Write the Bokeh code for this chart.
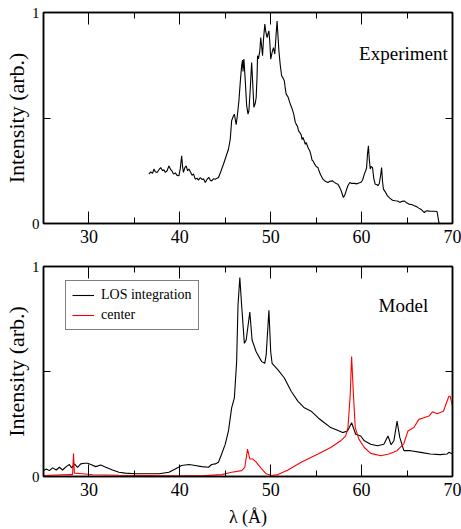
from bokeh.plotting import figure
from bokeh.layouts import column
from bokeh.models import FixedTicker, LinearAxis, Label, Legend, LegendItem, Range1d
from bokeh.embed import file_html
from bokeh.resources import INLINE

# ---------------- data ----------------
x_major = [30, 40, 50, 60, 70]
x_minor = [35, 45, 55, 65]
y_ticks = [0, 0.5, 1]
y_tick_labels = {0: "0", 0.5: "", 1: "1"}

exp_wl = [36.6, 36.8, 37.0, 37.15, 37.3, 37.5, 37.7, 37.9, 38.1, 38.25, 38.4, 38.6, 38.8, 39.0, 39.15,
          39.3, 39.5, 39.7, 39.9, 40.05, 40.2, 40.3, 40.4, 40.55, 40.7, 40.85, 41.0, 41.2, 41.35, 41.5,
          41.7, 41.9, 42.05, 42.25, 42.45, 42.6, 42.8, 43.0, 43.2, 43.35, 43.5, 43.7, 43.9, 44.1, 44.25,
          44.5, 44.8, 45.1, 45.35, 45.55, 45.7, 45.85, 46.0, 46.2, 46.35, 46.5, 46.65, 46.8, 46.9, 46.95,
          47.05, 47.2, 47.35, 47.5, 47.6, 47.75, 47.9, 48.0, 48.15, 48.3, 48.4, 48.5, 48.55, 48.65, 48.8,
          48.9, 49.0, 49.1, 49.2, 49.35, 49.45, 49.6, 49.7, 49.8, 49.9, 50.0, 50.15, 50.3, 50.45, 50.6,
          50.7, 50.8, 50.9, 51.05, 51.2, 51.35, 51.5, 51.6, 51.7, 51.9, 52.1, 52.3, 52.45, 52.55, 52.7,
          52.8, 52.95, 53.05, 53.2, 53.35, 53.45, 53.55, 53.7, 53.8, 53.9, 54.1, 54.3, 54.45, 54.55, 54.65,
          54.85, 55.0, 55.2, 55.35, 55.5, 55.75, 56.0, 56.3, 56.5, 56.8, 57.0, 57.2, 57.4, 57.6, 57.75,
          58.0, 58.15, 58.3, 58.5, 58.7, 58.9, 59.2, 59.5, 59.7, 59.9, 60.1, 60.3, 60.45, 60.55, 60.65,
          60.75, 60.85, 60.95, 61.05, 61.2, 61.35, 61.5, 61.65, 61.8, 61.95, 62.1, 62.2, 62.3, 62.4, 62.6,
          62.85, 63.1, 63.4, 63.7, 63.95, 64.2, 64.45, 64.7, 64.95, 65.2, 65.5, 65.8, 66.05, 66.3, 66.6,
          66.9, 67.05, 67.2, 67.6, 68.0, 68.3, 68.5, 68.6, 69.9]
exp_int = [0.234, 0.245, 0.238, 0.258, 0.245, 0.242, 0.255, 0.265, 0.25, 0.255, 0.242, 0.25, 0.273, 0.255, 0.248,
           0.234, 0.24, 0.228, 0.226, 0.26, 0.321, 0.27, 0.242, 0.265, 0.273, 0.25, 0.258, 0.242, 0.228, 0.235,
           0.21, 0.215, 0.205, 0.218, 0.208, 0.212, 0.194, 0.21, 0.218, 0.205, 0.202, 0.212, 0.21, 0.215, 0.218,
           0.245, 0.281, 0.32, 0.352, 0.4, 0.487, 0.505, 0.518, 0.468, 0.52, 0.581, 0.67, 0.747, 0.775, 0.72,
           0.779, 0.676, 0.56, 0.518, 0.534, 0.64, 0.763, 0.68, 0.55, 0.57, 0.597, 0.7, 0.795, 0.78, 0.818,
           0.881, 0.84, 0.795, 0.87, 0.945, 0.91, 0.881, 0.9, 0.913, 0.86, 0.779, 0.81, 0.834, 0.803, 0.9,
           0.96, 0.89, 0.818, 0.75, 0.70, 0.69, 0.676, 0.64, 0.613, 0.6, 0.573, 0.55, 0.53, 0.515, 0.48,
           0.471, 0.46, 0.44, 0.431, 0.42, 0.398, 0.408, 0.39, 0.375, 0.384, 0.36, 0.344, 0.32, 0.3, 0.297,
           0.28, 0.27, 0.265, 0.245, 0.23, 0.21, 0.2, 0.194, 0.2, 0.202, 0.195, 0.19, 0.186, 0.17, 0.155,
           0.123, 0.135, 0.155, 0.18, 0.194, 0.19, 0.19, 0.188, 0.192, 0.194, 0.205, 0.234, 0.25, 0.265, 0.33,
           0.368, 0.3, 0.258, 0.27, 0.265, 0.21, 0.186, 0.185, 0.179, 0.19, 0.23, 0.265, 0.2, 0.163, 0.15,
           0.131, 0.12, 0.11, 0.108, 0.107, 0.1, 0.105, 0.107, 0.098, 0.092, 0.09, 0.084, 0.08, 0.073, 0.065,
           0.052, 0.058, 0.06, 0.058, 0.058, 0.057, 0.005, 0.0, 0.0]

los_wl = [25.0, 25.3, 25.65, 26.0, 26.4, 26.75, 27.1, 27.5, 27.85, 28.1, 28.4, 28.75, 29.1, 29.5, 29.85,
          30.2, 30.75, 31.3, 31.85, 32.6, 33.3, 34.0, 35.1, 36.2, 37.7, 38.8, 39.5, 40.2, 41.0, 41.7,
          42.4, 43.15, 43.5, 43.9, 44.25, 44.6, 45.0, 45.35, 45.7, 46.0, 46.25, 46.4, 46.6, 46.8, 47.1,
          47.3, 47.7, 47.95, 48.4, 49.0, 49.35, 49.5, 49.8, 50.0, 50.15, 50.8, 51.5, 52.25, 53.0, 53.7,
          54.45, 55.2, 55.9, 56.6, 57.35, 57.9, 58.45, 58.9, 59.35, 59.9, 60.3, 61.0, 61.75, 62.45, 62.9,
          63.25, 63.55, 63.9, 64.2, 64.65, 65.4, 66.5, 67.55, 68.65, 69.4, 69.6, 70.0]
los_int = [0.028, 0.036, 0.028, 0.041, 0.031, 0.044, 0.031, 0.047, 0.057, 0.041, 0.06, 0.044, 0.06, 0.063, 0.063,
           0.057, 0.047, 0.055, 0.044, 0.031, 0.02, 0.016, 0.013, 0.013, 0.013, 0.02, 0.036, 0.052, 0.057, 0.052,
           0.047, 0.044, 0.057, 0.06, 0.068, 0.107, 0.154, 0.217, 0.327, 0.374, 0.547, 0.814, 0.948, 0.814, 0.634,
           0.65, 0.783, 0.65, 0.594, 0.547, 0.539, 0.579, 0.791, 0.594, 0.539, 0.508, 0.469, 0.406, 0.358, 0.327,
           0.311, 0.28, 0.256, 0.233, 0.22, 0.209, 0.217, 0.256, 0.201, 0.193, 0.17, 0.154, 0.146, 0.154, 0.193,
           0.151, 0.17, 0.264, 0.186, 0.123, 0.123, 0.115, 0.107, 0.104, 0.107, 0.115, 0.107]

ctr_wl = [25.0, 27.85, 28.2, 28.3, 28.4, 29.3, 30.4, 33.3, 38.8, 42.4, 44.6, 45.7, 46.8, 47.15, 47.45,
          47.7, 48.05, 48.4, 49.0, 49.5, 50.1, 50.8, 51.9, 53.35, 55.2, 56.6, 57.7, 58.25, 58.5, 58.75,
          58.9, 59.1, 59.3, 59.7, 60.3, 61.0, 62.1, 63.0, 63.9, 64.65, 65.1, 65.4, 65.75, 66.3, 66.85,
          67.4, 67.8, 68.3, 69.0, 69.6, 69.75, 70.0]
ctr_int = [0.005, 0.009, 0.009, 0.11, 0.016, 0.013, 0.008, 0.006, 0.003, 0.003, 0.009, 0.02, 0.028, 0.044, 0.13,
           0.083, 0.083, 0.068, 0.036, 0.013, 0.005, 0.009, 0.031, 0.068, 0.107, 0.138, 0.17, 0.193, 0.233, 0.39,
           0.571, 0.39, 0.233, 0.178, 0.138, 0.11, 0.099, 0.107, 0.123, 0.157, 0.217, 0.225, 0.233, 0.272, 0.28,
           0.288, 0.308, 0.299, 0.311, 0.382, 0.382, 0.335]

FONT = "'Liberation Serif', 'Times New Roman', serif"


def make_fig(height, top, bottom, xlabel=None):
    p = figure(width=461, height=height, x_range=Range1d(25, 70), y_range=Range1d(0, 1),
               output_backend="svg", toolbar_location=None,
               x_axis_location=None, y_axis_location=None,
               min_border_left=41, min_border_right=9, min_border_top=top, min_border_bottom=bottom)
    p.xgrid.visible = False
    p.ygrid.visible = False
    p.outline_line_color = "black"
    p.outline_line_width = 1.5
    p.background_fill_color = "white"
    p.border_fill_color = "white"

    for side in ("below", "above"):
        ax = LinearAxis(ticker=FixedTicker(ticks=x_major, minor_ticks=x_minor))
        ax.major_tick_in = 12
        ax.major_tick_out = 0
        ax.minor_tick_in = 6
        ax.minor_tick_out = 0
        ax.major_tick_line_color = "black"
        ax.minor_tick_line_color = "black"
        ax.axis_line_color = "black"
        ax.axis_line_width = 1.5
        ax.major_label_text_font = FONT
        ax.major_label_text_color = "black"
        if side == "below":
            ax.major_label_text_font_size = "18px"
            ax.major_label_standoff = 6
            if xlabel:
                ax.axis_label = xlabel
                ax.axis_label_text_font = FONT
                ax.axis_label_text_font_size = "18px"
                ax.axis_label_text_font_style = "normal"
                ax.axis_label_text_color = "black"
                ax.axis_label_standoff = 8
        else:
            ax.major_label_overrides = {t: "" for t in x_major}
            ax.major_label_text_font_size = "1px"
            ax.major_label_standoff = 0
        p.add_layout(ax, side)

    for side in ("left", "right"):
        ay = LinearAxis(ticker=FixedTicker(ticks=y_ticks, minor_ticks=[]))
        ay.major_tick_in = 7
        ay.major_tick_out = 0
        ay.minor_tick_in = 0
        ay.minor_tick_out = 0
        ay.major_tick_line_color = "black"
        ay.axis_line_color = "black"
        ay.axis_line_width = 1.5
        ay.major_label_text_font = FONT
        ay.major_label_text_color = "black"
        if side == "left":
            ay.major_label_overrides = y_tick_labels
            ay.major_label_text_font_size = "15px"
            ay.major_label_standoff = 4
            ay.axis_label = "Intensity (arb.)"
            ay.axis_label_text_font = FONT
            ay.axis_label_text_font_size = "22px"
            ay.axis_label_text_font_style = "normal"
            ay.axis_label_text_color = "black"
            ay.axis_label_standoff = 0
        else:
            ay.major_label_overrides = {t: "" for t in y_ticks}
            ay.major_label_text_font_size = "1px"
            ay.major_label_standoff = 0
        p.add_layout(ay, side)
    return p


p1 = make_fig(257, 12, 34)
p1.line(exp_wl, exp_int, line_color="black", line_width=1.1)
p1.add_layout(Label(x=64.6, y=0.806, text="Experiment", text_align="center", text_baseline="middle",
                    text_font=FONT, text_font_size="19px", text_color="black"))

p2 = make_fig(272, 9, 51, xlabel="λ (Å)")
r_los = p2.line(los_wl, los_int, line_color="black", line_width=1.1)
r_ctr = p2.line(ctr_wl, ctr_int, line_color="#ff0000", line_width=1.1)
p2.add_layout(Label(x=64.6, y=0.815, text="Model", text_align="center", text_baseline="middle",
                    text_font=FONT, text_font_size="19px", text_color="black"))

legend = Legend(items=[LegendItem(label="LOS integration", renderers=[r_los]),
                       LegendItem(label="center", renderers=[r_ctr])],
                location=(22, 146), orientation="vertical")
legend.border_line_color = "black"
legend.border_line_width = 1
legend.background_fill_color = "white"
legend.background_fill_alpha = 1
legend.label_text_font = FONT
legend.label_text_font_size = "14px"
legend.label_text_color = "black"
legend.glyph_width = 22
legend.glyph_height = 16
legend.label_height = 16
legend.label_standoff = 7
legend.spacing = 4
legend.padding = 6
legend.margin = 0
p2.add_layout(legend)

layout = column(p1, p2, spacing=0)
open("out.html", "w").write(file_html(layout, INLINE))
